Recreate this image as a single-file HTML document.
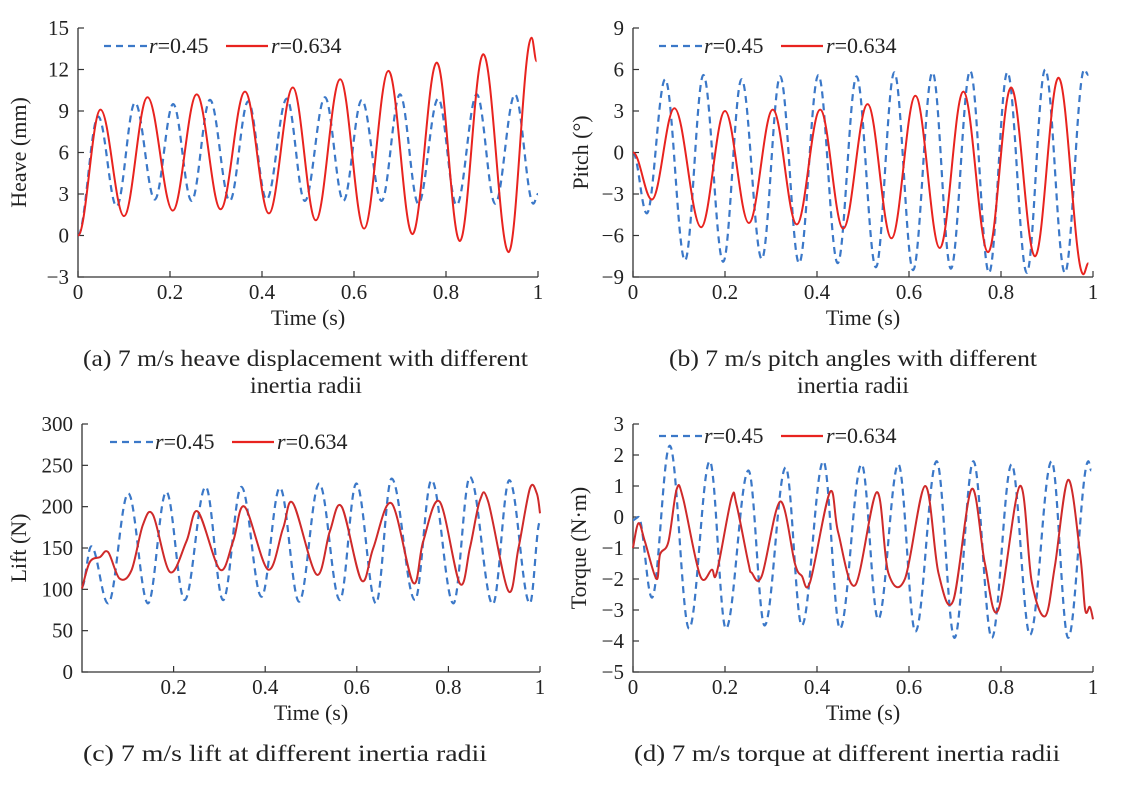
<!DOCTYPE html>
<html><head><meta charset="utf-8">
<style>
body{margin:0;background:#fff;}
svg{display:block;font-family:"Liberation Serif",serif;}
</style></head>
<body>
<svg id="fig" width="1122" height="788" viewBox="0 0 1122 788" xmlns="http://www.w3.org/2000/svg">
<g font-size="23" fill="#222">
<text x="83" y="366" textLength="445" lengthAdjust="spacingAndGlyphs">(a) 7 m/s heave displacement with different</text>
<text x="250" y="393" textLength="112" lengthAdjust="spacingAndGlyphs">inertia radii</text>
<text x="669" y="366" textLength="368" lengthAdjust="spacingAndGlyphs">(b) 7 m/s pitch angles with different</text>
<text x="797" y="393" textLength="112" lengthAdjust="spacingAndGlyphs">inertia radii</text>
<text x="83" y="761" textLength="404" lengthAdjust="spacingAndGlyphs">(c) 7 m/s lift at different inertia radii</text>
<text x="634" y="761" textLength="426" lengthAdjust="spacingAndGlyphs">(d) 7 m/s torque at different inertia radii</text>
</g>
</svg>
<script>
// ---- data (time in s, values in units) ----
const aBlueT=[0,.044,.084,.124,.167,.207,.247,.287,.330,.370,.410,.454,.493,.537,.577,.617,.660,.700,.740,.783,.823,.867,.907,.950,.990,1.0];
const aBlueV=[0,8.6,2.1,9.6,2.6,9.5,2.5,9.8,2.5,9.7,2.6,9.9,2.5,10.0,2.5,9.8,2.5,10.2,2.3,9.9,2.2,10.2,2.3,10.2,2.3,3.0];
const aRedT=[0,.049,.100,.151,.206,.258,.310,.363,.415,.467,.517,.570,.622,.675,.727,.780,.830,.881,.936,.986,.997];
const aRedV=[0,9.1,1.4,10.0,1.8,10.2,1.9,10.4,1.6,10.7,1.1,11.3,0.5,11.9,0.1,12.5,-0.4,13.1,-1.2,14.3,12.6];
const bBlueT=[0,.030,.070,.113,.153,.196,.236,.280,.320,.361,.403,.445,.486,.528,.568,.609,.651,.691,.733,.774,.814,.856,.896,.939,.981,.99];
const bBlueV=[0,-4.4,5.3,-7.8,5.6,-7.9,5.3,-7.7,5.5,-8.0,5.6,-8.0,5.5,-8.3,5.8,-8.5,5.8,-8.4,5.9,-8.7,5.8,-8.7,6.0,-8.7,6.0,5.6];
const bRedT=[0,.041,.090,.148,.200,.252,.304,.356,.407,.457,.510,.562,.614,.667,.718,.772,.822,.874,.925,.979,.99];
const bRedV=[0,-3.4,3.2,-5.4,3.0,-5.1,3.1,-5.2,3.1,-5.5,3.5,-6.2,4.1,-6.9,4.4,-7.2,4.7,-7.5,5.4,-8.8,-8.0];
const cBlueT=[0,.020,.057,.101,.144,.184,.224,.270,.308,.348,.392,.432,.474,.518,.563,.599,.642,.676,.727,.763,.811,.847,.897,.933,.978,1.0];
const cBlueV=[103,152,83,216,83,218,87,224,87,224,91,223,85,228,87,228,83,234,87,232,83,236,82,232,83,182];
const cRedT=[0,.017,.039,.057,.082,.108,.133,.155,.192,.228,.253,.301,.330,.355,.406,.439,.461,.512,.541,.567,.610,.636,.676,.723,.745,.781,.825,.847,.869,.887,.931,.953,.978,.993,1.0];
const cRedV=[101,133,139,145,113,123,178,190,121,158,194,124,158,200,124,174,204,118,170,200,111,150,204,108,158,206,107,150,208,206,98,150,222,216,192];
const dBlueT=[0,.012,.041,.080,.122,.167,.202,.251,.286,.332,.367,.414,.450,.497,.533,.577,.614,.660,.699,.740,.780,.823,.863,.910,.946,.990,.996];
const dBlueV=[-0.1,0,-2.6,2.3,-3.6,1.8,-3.6,1.5,-3.5,1.6,-3.5,1.8,-3.6,1.7,-3.3,1.7,-3.7,1.8,-3.9,1.8,-3.9,1.7,-3.8,1.8,-3.9,1.8,1.5];
const dRedT=[0,.012,.026,.051,.059,.077,.095,.109,.146,.171,.182,.214,.225,.251,.258,.280,.320,.352,.367,.385,.428,.446,.483,.530,.555,.591,.635,.664,.696,.736,.765,.794,.841,.867,.896,.917,.946,.972,.983,.993,1.0];
const dRedV=[-1.0,-0.2,-0.8,-2.0,-1.2,-0.8,0.9,0.6,-1.9,-1.7,-1.8,0.6,0.4,-1.5,-1.8,-1.9,0.5,-1.5,-1.9,-2.1,0.8,-0.5,-2.2,0.8,-1.8,-2.0,1.0,-1.8,-2.7,0.9,-1.5,-3.0,1.0,-2.1,-3.2,-1.6,1.2,-1.2,-3.0,-2.9,-3.3];
const xTicks=[0,0.2,0.4,0.6,0.8,1];
const xTicksC=[0.2,0.4,0.6,0.8,1];
const aTicks=[-3,0,3,6,9,12,15];
const bTicks=[-9,-6,-3,0,3,6,9];
const cTicks=[0,50,100,150,200,250,300];
const dTicks=[-5,-4,-3,-2,-1,0,1,2,3];

const NS="http://www.w3.org/2000/svg";
const svg=document.getElementById('fig');
function mk(tag,attrs,parent){const e=document.createElementNS(NS,tag);for(const k in attrs)e.setAttribute(k,attrs[k]);(parent||svg).appendChild(e);return e;}
function fmt(v){return v<0?'\u2212'+Math.abs(v):String(v);}

function smoothPath(xs,ys){
  let d='M'+xs[0].toFixed(1)+','+ys[0].toFixed(1);
  for(let i=1;i<xs.length;i++){
    const dx=xs[i]-xs[i-1];
    d+=' C'+(xs[i-1]+dx*0.36).toFixed(1)+','+ys[i-1].toFixed(1)+' '+(xs[i]-dx*0.36).toFixed(1)+','+ys[i].toFixed(1)+' '+xs[i].toFixed(1)+','+ys[i].toFixed(1);
  }
  return d;
}
function crPath(xs,ys){
  let d='M'+xs[0].toFixed(1)+','+ys[0].toFixed(1);
  for(let i=0;i<xs.length-1;i++){
    const x0=xs[Math.max(i-1,0)],y0=ys[Math.max(i-1,0)],x3=xs[Math.min(i+2,xs.length-1)],y3=ys[Math.min(i+2,xs.length-1)];
    const c1x=xs[i]+(xs[i+1]-x0)/6,c1y=ys[i]+(ys[i+1]-y0)/6;
    const c2x=xs[i+1]-(x3-xs[i])/6,c2y=ys[i+1]-(y3-ys[i])/6;
    d+=' C'+c1x.toFixed(1)+','+c1y.toFixed(1)+' '+c2x.toFixed(1)+','+c2y.toFixed(1)+' '+xs[i+1].toFixed(1)+','+ys[i+1].toFixed(1);
  }
  return d;
}

function panel(p){
  const g=mk('g',{});
  
  
  const X=t=>p.x0+(t-p.t0)*(p.x1-p.x0)/(1-p.t0);
  const Y=v=>p.yb+(v-p.vmin)*(p.yt-p.yb)/(p.vmax-p.vmin);
  const ax=mk('path',{d:'M'+p.x0+','+p.yt+' V'+p.yb+' H'+p.x1,fill:'none',stroke:'#333','stroke-width':1.3},g);
  
  
  p.yt_.forEach(v=>{
    const y=Y(v);
    mk('line',{x1:p.x0,x2:p.x0+6,y1:y,y2:y,stroke:'#333','stroke-width':1.2},g);
    const t=mk('text',{x:p.x0-9,y:y+7,'font-size':21,'text-anchor':'end',fill:'#222'},g);
    t.textContent=fmt(v);
    
    
  });
  p.xt.forEach(v=>{
    const x=X(v);
    mk('line',{x1:x,x2:x,y1:p.yb,y2:p.yb-6,stroke:'#333','stroke-width':1.2},g);
    const t=mk('text',{x:x,y:p.yb+22,'font-size':21,'text-anchor':'middle',fill:'#222'},g);
    t.textContent=String(v);
    
    
  });
  const xl=mk('text',{x:(p.x0+p.x1)/2,y:p.yb+48,'font-size':22,'text-anchor':'middle',fill:'#222'},g);
  xl.textContent='Time (s)';
  
  
  const yc=(p.yt+p.yb)/2;
  const yl=mk('text',{x:p.ylx,y:yc,'font-size':22,'text-anchor':'middle',fill:'#222',transform:'rotate(-90 '+p.ylx+' '+yc+')'},g);
  yl.textContent=p.ylabel;
  
  
  const bl=mk('path',{d:smoothPath(p.bT.map(X),p.bV.map(Y)),fill:'none',stroke:'#3b78c8','stroke-width':2.2,'stroke-dasharray':'7 5'},g);
  
  
  const rd=mk('path',{d:(p.noisy?crPath:smoothPath)(p.rT.map(X),p.rV.map(Y)),fill:'none',stroke:p.noisy?'#cf2a2a':'#e8231f','stroke-width':2},g);
  
  
  const lg=mk('g',{},g);
  
  
  const lx=p.lx,ly=p.ly;
  mk('line',{x1:lx,x2:lx+44,y1:ly,y2:ly,stroke:'#3b78c8','stroke-width':2.2,'stroke-dasharray':'7 5'},lg);
  const t1=mk('text',{x:lx+45,y:ly+7,'font-size':22,fill:'#222'},lg);
  t1.innerHTML='<tspan font-style="italic">r</tspan>=0.45';
  
  
  mk('line',{x1:lx+122,x2:lx+164,y1:ly,y2:ly,stroke:'#e8231f','stroke-width':2.2},lg);
  const t2=mk('text',{x:lx+167,y:ly+7,'font-size':22,fill:'#222'},lg);
  t2.innerHTML='<tspan font-style="italic">r</tspan>=0.634';
  
  
}

panel({id:'heave',x0:78,x1:538,t0:0,yt:28,yb:277,vmin:-3,vmax:15,yt_:aTicks,xt:xTicks,ylabel:'Heave (mm)',ylx:26,bT:aBlueT,bV:aBlueV,rT:aRedT,rV:aRedV,lx:104,ly:46});
panel({id:'pitch',x0:633,x1:1093,t0:0,yt:28,yb:277,vmin:-9,vmax:9,yt_:bTicks,xt:xTicks,ylabel:'Pitch (°)',ylx:588,bT:bBlueT,bV:bBlueV,rT:bRedT,rV:bRedV,lx:659,ly:46});
panel({id:'lift',x0:82,x1:540,t0:0,yt:424,yb:672,vmin:0,vmax:300,yt_:cTicks,xt:xTicksC,ylabel:'Lift (N)',ylx:26,bT:cBlueT,bV:cBlueV,rT:cRedT,rV:cRedV,noisy:true,lx:110,ly:442});
panel({id:'torque',x0:633,x1:1093,t0:0,yt:424,yb:672,vmin:-5,vmax:3,yt_:dTicks,xt:xTicks,ylabel:'Torque (N·m)',ylx:586,bT:dBlueT,bV:dBlueV,rT:dRedT,rV:dRedV,noisy:true,lx:659,ly:436});
</script>
</body></html>
